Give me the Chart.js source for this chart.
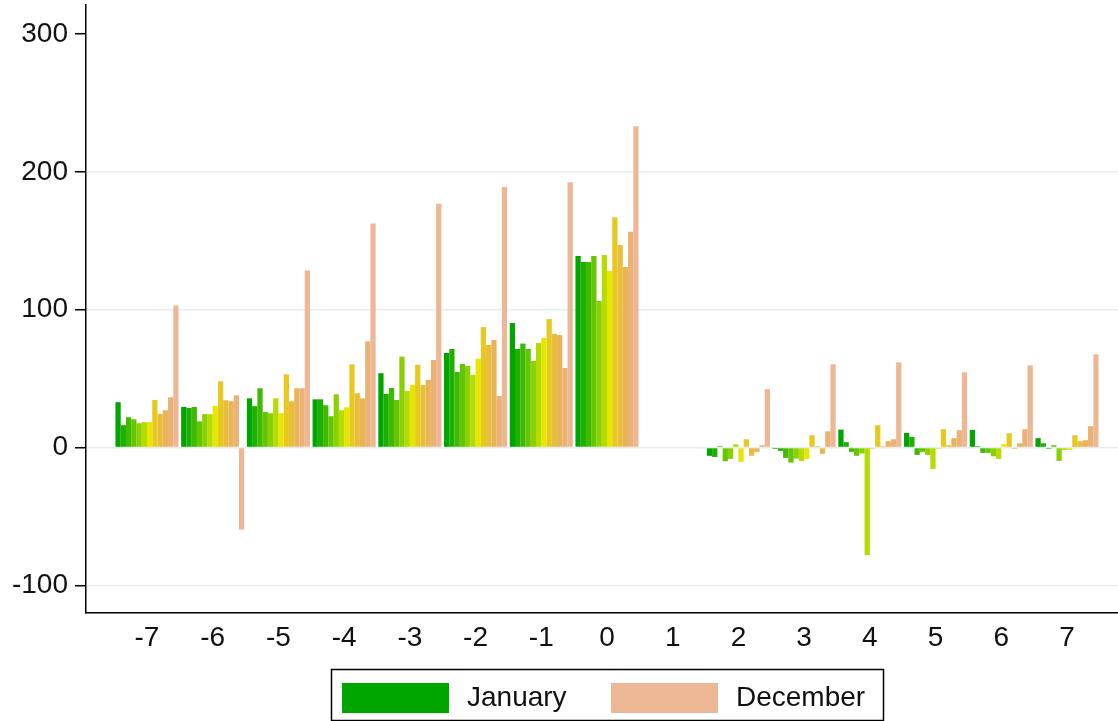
<!DOCTYPE html>
<html>
<head>
<meta charset="utf-8">
<script src="https://cdn.jsdelivr.net/npm/chart.js@4.4.0/dist/chart.umd.min.js"></script>
<style>
  html, body { margin: 0; padding: 0; background: #fff; }
  #wrap { width: 1118px; height: 721px; position: relative; }
</style>
</head>
<body>
<div id="wrap"><canvas id="c" width="1118" height="721"></canvas></div>
<script>
const categories = [-7, -6, -5, -4, -3, -2, -1, 0, 1, 2, 3, 4, 5, 6, 7];
const yTicks = [-100, 0, 100, 200, 300];
const months = ['January','February','March','April','May','June','July','August','September','October','November','December'];
const monthColors = ['#00A600','#1DB000','#3EBB00','#63C600','#8BD000','#B6DB00','#E6E600','#E6C81E','#E8BC3C','#E9B457','#EBB275','#EDB795'];

const january   = [32.9, 29.5, 35.7, 35.0, 53.9, 68.6, 90.3, 138.9, null, -6.0, -1.0, 13.0, 10.6, 12.8, 6.8];
const february  = [16.2, 28.7, 30.0, 35.0, 38.9, 71.5, 71.5, 134.5, null, -6.8, -2.4, 3.9, 7.7, 1.0, 3.1];
const march     = [22.0, 29.5, 43.0, 30.7, 43.2, 54.8, 75.4, 134.5, null, 1.0, -7.5, -3.1, -5.3, -3.9, -1.0];
const april     = [20.5, 19.0, 25.8, 22.7, 34.5, 60.6, 71.5, 138.9, null, -9.9, -10.9, -6.0, -3.1, -3.9, 1.7];
const may       = [17.6, 24.2, 24.9, 38.6, 66.0, 59.2, 62.8, 106.3, null, -8.2, -8.0, -4.3, -5.3, -6.3, -9.7];
const june      = [18.4, 24.2, 35.7, 27.0, 41.0, 52.7, 75.8, 139.6, null, 2.4, -9.7, -78.0, -15.5, -8.2, -1.7];
const july      = [18.4, 30.2, 24.9, 29.2, 45.4, 64.3, 79.5, 128.0, null, -10.4, -8.2, -1.0, -1.0, 2.4, -1.7];
const august    = [34.5, 48.0, 53.1, 60.4, 60.0, 87.4, 93.2, 167.1, null, 6.0, 8.9, 16.2, 13.3, 10.4, 8.9];
const september = [24.4, 34.3, 33.6, 39.4, 45.4, 74.4, 82.4, 146.9, null, -6.0, 1.0, 1.0, 1.7, -1.0, 4.6];
const october   = [27.0, 33.6, 43.0, 35.7, 49.0, 78.0, 81.6, 131.0, null, -3.1, -4.6, 4.6, 6.8, 3.1, 5.3];
const november  = [36.5, 37.9, 43.0, 77.0, 63.5, 37.4, 57.7, 156.5, null, 1.7, 11.8, 6.0, 12.6, 13.3, 15.5];
const december  = [103.0, -59.5, 128.5, 162.6, 176.8, 189.0, 192.5, 233.0, null, 42.3, 60.4, 61.8, 54.6, 59.7, 67.6];

const series = [january, february, march, april, may, june, july, august, september, october, november, december];
const legendMonths = [0, 11];

const FONT = '"Liberation Sans", Arial, sans-serif';

const datasets = series.map((vals, i) => ({
  label: months[i],
  data: categories.map((c, j) => ({ x: c, y: vals[j] })),
  backgroundColor: monthColors[i],
  borderWidth: 0,
  categoryPercentage: 0.96,
  barPercentage: 1.0
}));

const boxLegend = {
  id: 'boxLegend',
  afterDraw(chart) {
    const ctx = chart.ctx;
    ctx.save();
    ctx.strokeStyle = '#000';
    ctx.lineWidth = 1.5;
    ctx.strokeRect(331.5, 669.5, 552, 51);
    const pos = [{ bx: 342, tx: 467 }, { bx: 611, tx: 736 }];
    legendMonths.forEach((mi, k) => {
      const ds = chart.data.datasets[mi];
      ctx.fillStyle = ds.backgroundColor;
      ctx.fillRect(pos[k].bx, 683, 107, 30);
      ctx.fillStyle = '#111';
      ctx.font = '28px ' + FONT;
      ctx.textBaseline = 'middle';
      ctx.textAlign = 'left';
      ctx.fillText(ds.label, pos[k].tx, 698);
    });
    ctx.restore();
  }
};

new Chart(document.getElementById('c'), {
  type: 'bar',
  data: { datasets },
  plugins: [boxLegend],
  options: {
    responsive: false,
    animation: false,
    layout: { padding: { top: 5, right: 0, bottom: 0, left: 0 } },
    plugins: { legend: { display: false }, tooltip: { enabled: false } },
    scales: {
      x: {
        type: 'linear',
        min: -7.928,
        max: 7.776,
        offset: false,
        grid: { display: false, drawTicks: false, offset: false },
        border: { display: true, color: '#000', width: 1.5 },
        afterBuildTicks: (s) => { s.ticks = categories.map(v => ({ value: v })); },
        afterFit: (s) => { s.height = 108; s.paddingLeft = 0; s.paddingRight = 0; },
        ticks: {
          font: { size: 28, family: FONT },
          color: '#111',
          padding: 8,
          maxRotation: 0,
          autoSkip: false,
          callback: (v) => String(v)
        }
      },
      y: {
        min: -120,
        max: 321,
        afterBuildTicks: (s) => { s.ticks = yTicks.map(v => ({ value: v })); },
        afterFit: (s) => { s.width = 86; s.paddingTop = 0; s.paddingBottom = 0; },
        grid: {
          color: (ctx) => (ctx.tick && ctx.tick.value === 300) ? 'rgba(0,0,0,0)' : '#E4EDF0',
          lineWidth: 1.5,
          tickColor: '#000',
          tickWidth: 1.5,
          tickLength: 11,
          drawTicks: true
        },
        border: { display: true, color: '#000', width: 1.5 },
        ticks: {
          font: { size: 28, family: FONT },
          color: '#111',
          padding: 7,
          callback: (v) => String(v)
        }
      }
    }
  }
});
</script>
</body>
</html>
